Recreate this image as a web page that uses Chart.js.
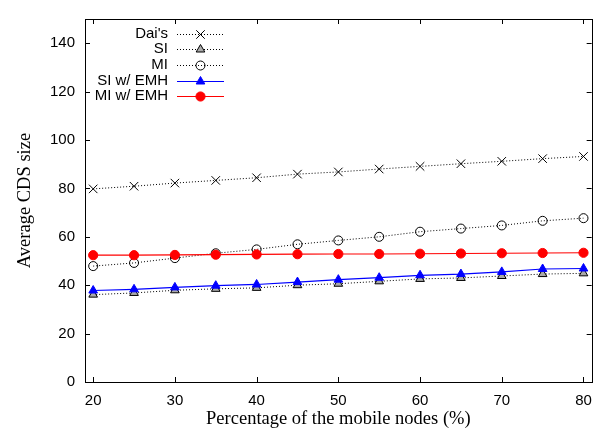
<!DOCTYPE html>
<html>
<head>
<meta charset="utf-8">
<script src="https://cdn.jsdelivr.net/npm/chart.js@4.4.1/dist/chart.umd.min.js"></script>
<style>
  html, body { margin: 0; padding: 0; background: #fff; }
  #wrap { width: 602px; height: 430px; }
</style>
</head>
<body>
<div id="wrap"><canvas id="c" width="602" height="430"></canvas></div>
<script>
const xValues = [20, 25, 30, 35, 40, 45, 50, 55, 60, 65, 70, 75, 80];
const daiValues = [79.8, 80.9, 82.2, 83.3, 84.4, 85.9, 86.8, 88.0, 89.1, 90.2, 91.2, 92.3, 93.2];
const siValues = [36.1, 36.8, 37.9, 38.5, 38.9, 40.0, 40.6, 41.6, 42.6, 43.0, 43.8, 44.6, 44.9];
const miValues = [47.9, 49.2, 51.2, 53.2, 54.8, 56.9, 58.5, 60.0, 62.1, 63.4, 64.7, 66.6, 67.7];
const siEmhValues = [37.8, 38.3, 39.1, 39.8, 40.3, 41.3, 42.3, 43.1, 44.1, 44.6, 45.5, 46.7, 46.9];
const miEmhValues = [52.4, 52.4, 52.5, 52.6, 52.7, 52.8, 52.9, 52.9, 53.0, 53.1, 53.2, 53.3, 53.4];
const seriesLabels = ["Dai's", "SI", "MI", "SI w/ EMH", "MI w/ EMH"];
const xTicks = [20, 30, 40, 50, 60, 70, 80];
const yTicks = [0, 20, 40, 60, 80, 100, 120, 140];

const pts = arr => arr.map((v, i) => ({ x: xValues[i], y: v }));

const datasets = [
  { label: seriesLabels[0], data: pts(daiValues), borderColor: '#000', borderWidth: 1, borderDash: [1, 2],
    pointStyle: 'crossRot', pointRadius: 6, pointBorderColor: '#000', pointBorderWidth: 1, pointBackgroundColor: 'transparent', order: 5 },
  { label: seriesLabels[1], data: pts(siValues), borderColor: '#000', borderWidth: 1, borderDash: [1, 2],
    pointStyle: 'triangle', pointRadius: 5, pointBorderColor: '#000', pointBorderWidth: 1, pointBackgroundColor: '#aaa', order: 4 },
  { label: seriesLabels[2], data: pts(miValues), borderColor: '#000', borderWidth: 1, borderDash: [1, 2],
    pointStyle: 'circle', pointRadius: 4.5, pointBorderColor: '#000', pointBorderWidth: 1, pointBackgroundColor: 'rgba(255,255,255,0)', order: 3 },
  { label: seriesLabels[3], data: pts(siEmhValues), borderColor: '#0000ff', borderWidth: 1.2,
    pointStyle: 'triangle', pointRadius: 5, pointBorderColor: '#0000ff', pointBorderWidth: 1, pointBackgroundColor: '#0000ff', order: 2 },
  { label: seriesLabels[4], data: pts(miEmhValues), borderColor: '#ff0000', borderWidth: 1.2,
    pointStyle: 'circle', pointRadius: 4.6, pointBorderColor: '#ff0000', pointBorderWidth: 1, pointBackgroundColor: '#ff0000', order: 1 }
];
datasets.forEach(d => { d.fill = false; d.tension = 0; d.showLine = true; d.pointHoverRadius = d.pointRadius; });

const framePlugin = {
  id: 'frame',
  afterDatasetsDraw(chart) {
    const { ctx, chartArea: a, scales } = chart;
    ctx.save();
    ctx.strokeStyle = '#000';
    ctx.lineWidth = 1;
    ctx.setLineDash([]);
    const tl = 5;
    ctx.beginPath();
    xTicks.forEach(v => {
      const x = Math.round(scales.x.getPixelForValue(v)) + 0.5;
      ctx.moveTo(x, a.bottom); ctx.lineTo(x, a.bottom - tl);
      ctx.moveTo(x, a.top); ctx.lineTo(x, a.top + tl);
    });
    yTicks.forEach(v => {
      const y = Math.round(scales.y.getPixelForValue(v)) + 0.5;
      ctx.moveTo(a.left, y); ctx.lineTo(a.left + tl, y);
      ctx.moveTo(a.right, y); ctx.lineTo(a.right - tl, y);
    });
    ctx.stroke();
    ctx.strokeRect(Math.round(a.left) + 0.5, Math.round(a.top) + 0.5, Math.round(a.right - a.left), Math.round(a.bottom - a.top));

    // legend
    ctx.font = '15px "Liberation Sans", Arial, sans-serif';
    ctx.textAlign = 'right';
    ctx.textBaseline = 'middle';
    const textRight = 168, lineL = 177, lineR = 224, mx = 200.5;
    chart.data.datasets.forEach((ds, i) => {
      const y = 33.5 + i * 15.7;
      ctx.fillStyle = '#000';
      ctx.fillText(ds.label, textRight, y);
      ctx.save();
      ctx.strokeStyle = ds.borderColor;
      ctx.lineWidth = ds.borderWidth;
      ctx.setLineDash(ds.borderDash || []);
      ctx.beginPath();
      ctx.moveTo(lineL, Math.round(y) + 0.5); ctx.lineTo(lineR, Math.round(y) + 0.5);
      ctx.stroke();
      ctx.restore();
      ctx.save();
      ctx.strokeStyle = ds.pointBorderColor;
      ctx.fillStyle = ds.pointBackgroundColor;
      ctx.lineWidth = ds.pointBorderWidth;
      Chart.helpers.drawPoint(ctx, { pointStyle: ds.pointStyle, radius: ds.pointRadius, rotation: 0, borderWidth: ds.pointBorderWidth }, mx, Math.round(y) + 0.5);
      ctx.restore();
    });
    ctx.restore();
  }
};

new Chart(document.getElementById('c'), {
  type: 'line',
  data: { datasets },
  options: {
    responsive: false,
    animation: false,
    layout: { padding: { top: 13, right: 10, left: 0, bottom: 0 } },
    plugins: { legend: { display: false }, tooltip: { enabled: false } },
    scales: {
      x: {
        type: 'linear', min: 19, max: 81,
        grid: { display: false, drawTicks: false },
        border: { display: false },
        afterBuildTicks: s => { s.ticks = xTicks.map(v => ({ value: v })); },
        afterFit: s => { s.height = 48; },
        ticks: { padding: 10, color: '#000', font: { family: '"Liberation Sans", Arial, sans-serif', size: 15 }, maxRotation: 0, autoSkip: false },
        title: { display: true, text: 'Percentage of the mobile nodes (%)', color: '#000',
          font: { family: '"Liberation Serif", "Times New Roman", serif', size: 18.5 }, padding: { top: 0, bottom: 0 } }
      },
      y: {
        type: 'linear', min: 0, max: 150,
        grid: { display: false, drawTicks: false },
        border: { display: false },
        afterBuildTicks: s => { s.ticks = yTicks.map(v => ({ value: v })); },
        afterFit: s => { s.width = 85; },
        ticks: { padding: 10, color: '#000', font: { family: '"Liberation Sans", Arial, sans-serif', size: 15 }, autoSkip: false },
        title: { display: true, text: 'Average CDS size', color: '#000',
          font: { family: '"Liberation Serif", "Times New Roman", serif', size: 18.5 }, padding: { top: 14, bottom: 0 } }
      }
    }
  },
  plugins: [framePlugin]
});
</script>
</body>
</html>
